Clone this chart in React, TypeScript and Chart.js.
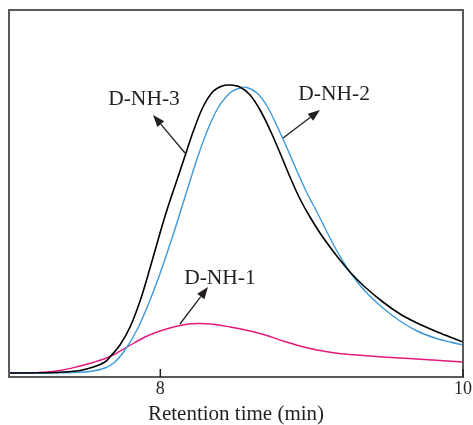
import React, { useEffect, useRef } from "react";
import { Chart, registerables } from "chart.js";

Chart.register(...registerables);

// Retention time (min) and detector response (arbitrary units)
const timeNH3 = [7.0, 7.205, 7.337, 7.469, 7.568, 7.634, 7.667, 7.733, 7.8, 7.866, 7.932, 7.998, 8.044, 8.11, 8.163, 8.216, 8.282, 8.348, 8.408, 8.46, 8.526, 8.593, 8.659, 8.725, 8.791, 8.857, 8.923, 8.989, 9.055, 9.121, 9.187, 9.253, 9.352, 9.471, 9.584, 9.696, 9.815, 9.914, 10.0];
const signalNH3 = [0, 0.2, 0.8, 2.5, 6.5, 11, 16, 28, 46, 72, 105, 140, 163, 193, 217, 241, 266, 281.5, 287, 288, 286, 278, 263, 243, 220, 196, 174, 156, 140, 126, 113, 101, 86, 71, 59, 50, 42, 36, 31];

const timeNH2 = [7.0, 7.337, 7.535, 7.634, 7.7, 7.78, 7.852, 7.919, 7.985, 8.031, 8.084, 8.13, 8.196, 8.249, 8.315, 8.381, 8.46, 8.526, 8.573, 8.639, 8.705, 8.771, 8.837, 8.903, 8.969, 9.035, 9.101, 9.167, 9.253, 9.352, 9.471, 9.584, 9.696, 9.815, 9.914, 10.0];
const signalNH2 = [0, 0.2, 1.5, 5, 11, 26, 45, 68, 94, 114, 138, 160, 192, 217, 244, 265, 280, 285, 285.5, 280, 267, 247, 225, 202, 180, 161, 141, 122, 101, 82, 65, 52, 42, 35, 31, 28];

const timeNH1 = [7.0, 7.205, 7.337, 7.469, 7.555, 7.667, 7.78, 7.899, 7.998, 8.13, 8.242, 8.361, 8.46, 8.593, 8.692, 8.811, 8.923, 9.035, 9.154, 9.253, 9.471, 9.696, 9.848, 10.0];
const signalNH1 = [0, 0.5, 2.5, 7, 10.5, 16.5, 26, 36, 42, 47.5, 49.5, 48.5, 46, 42, 38, 32, 27, 23, 20, 18.5, 16, 14, 12.5, 11];

const seriesNames = ["D-NH-3", "D-NH-2", "D-NH-1"];
const xTicks = [8, 10];
const xTitle = "Retention time (min)";

// label annotations
const labelText = ["D-NH-3", "D-NH-2", "D-NH-1"];
const labelPos = [[7.892, 274], [9.148, 279], [8.394, 95]];
const arrowTail = [[8.163, 220], [8.811, 235], [8.13, 49]];
const arrowTip = [[7.952, 258], [9.055, 263], [8.315, 86]];

const TEXT = "#231f20";
const FONT = "'Liberation Serif', 'Times New Roman', serif";

const pts = (t: number[], v: number[]) => t.map((x, i) => ({ x, y: v[i] }));

const decorPlugin = {
  id: "decor",
  afterDatasetsDraw(chart: any) {
    const { ctx, chartArea, scales } = chart;
    const xs = scales.x;
    const ys = scales.y;
    ctx.save();
    ctx.strokeStyle = "#5a5a5a";
    ctx.lineWidth = 2;
    ctx.strokeRect(chartArea.left, chartArea.top, chartArea.right - chartArea.left, chartArea.bottom - chartArea.top);
    ctx.strokeStyle = "#231f20";
    ctx.lineWidth = 1.5;
    xTicks.forEach((t) => {
      const px = xs.getPixelForValue(t);
      ctx.beginPath();
      ctx.moveTo(px, chartArea.bottom);
      ctx.lineTo(px, chartArea.bottom - 8);
      ctx.stroke();
    });
    for (let i = 0; i < labelText.length; i++) {
      const x0 = xs.getPixelForValue(arrowTail[i][0]);
      const y0 = ys.getPixelForValue(arrowTail[i][1]);
      const x1 = xs.getPixelForValue(arrowTip[i][0]);
      const y1 = ys.getPixelForValue(arrowTip[i][1]);
      const ang = Math.atan2(y1 - y0, x1 - x0);
      const hl = 12;
      const hw = 4.5;
      const bx = x1 - hl * Math.cos(ang);
      const by = y1 - hl * Math.sin(ang);
      ctx.strokeStyle = TEXT;
      ctx.fillStyle = TEXT;
      ctx.lineWidth = 1.3;
      ctx.beginPath();
      ctx.moveTo(x0, y0);
      ctx.lineTo(bx, by);
      ctx.stroke();
      ctx.beginPath();
      ctx.moveTo(x1, y1);
      ctx.lineTo(bx + hw * Math.sin(ang), by - hw * Math.cos(ang));
      ctx.lineTo(bx - hw * Math.sin(ang), by + hw * Math.cos(ang));
      ctx.closePath();
      ctx.fill();
      ctx.font = `21.5px ${FONT}`;
      ctx.textAlign = "center";
      ctx.textBaseline = "middle";
      ctx.fillText(labelText[i], xs.getPixelForValue(labelPos[i][0]), ys.getPixelForValue(labelPos[i][1]));
    }
    ctx.restore();
  },
};

export default function App() {
  const ref = useRef<HTMLCanvasElement | null>(null);
  useEffect(() => {
    document.body.style.margin = "0";
    const canvas = ref.current;
    if (!canvas) return;
    const line = { pointRadius: 0, tension: 0.35, fill: false };
    const chart = new Chart(canvas, {
      type: "line",
      data: {
        datasets: [
          { label: seriesNames[0], data: pts(timeNH3, signalNH3), borderColor: "#000000", borderWidth: 1.6, ...line },
          { label: seriesNames[1], data: pts(timeNH2, signalNH2), borderColor: "#3d9ad9", borderWidth: 1.4, ...line },
          { label: seriesNames[2], data: pts(timeNH1, signalNH1), borderColor: "#e5187b", borderWidth: 1.4, ...line },
        ],
      },
      options: {
        responsive: false,
        animation: false,
        layout: { padding: { left: 9, right: 10, top: 10, bottom: 0 } },
        plugins: { legend: { display: false }, tooltip: { enabled: false } },
        scales: {
          x: {
            type: "linear",
            min: 7,
            max: 10,
            position: "bottom",
            border: { display: false },
            grid: { display: false, drawTicks: false },
            afterBuildTicks: (scale: any) => {
              scale.ticks = xTicks.map((v) => ({ value: v }));
            },
            afterFit: (scale: any) => {
              scale.height = 48;
              scale.paddingLeft = 0;
              scale.paddingRight = 0;
            },
            ticks: {
              padding: 1,
              maxRotation: 0,
              autoSkip: false,
              color: TEXT,
              font: { family: FONT, size: 18 },
              callback: (v: any) => String(v),
            },
            title: {
              display: true,
              text: xTitle,
              color: TEXT,
              font: { family: FONT, size: 21, lineHeight: 1 },
              padding: { top: 0, bottom: 0 },
            },
          },
          y: { display: false, min: -4, max: 363 },
        },
      },
      plugins: [decorPlugin],
    } as any);
    return () => chart.destroy();
  }, []);
  return (
    <div style={{ position: "absolute", left: 0, top: 0, width: 473, height: 425 }}>
      <canvas ref={ref} width={473} height={425} />
    </div>
  );
}
